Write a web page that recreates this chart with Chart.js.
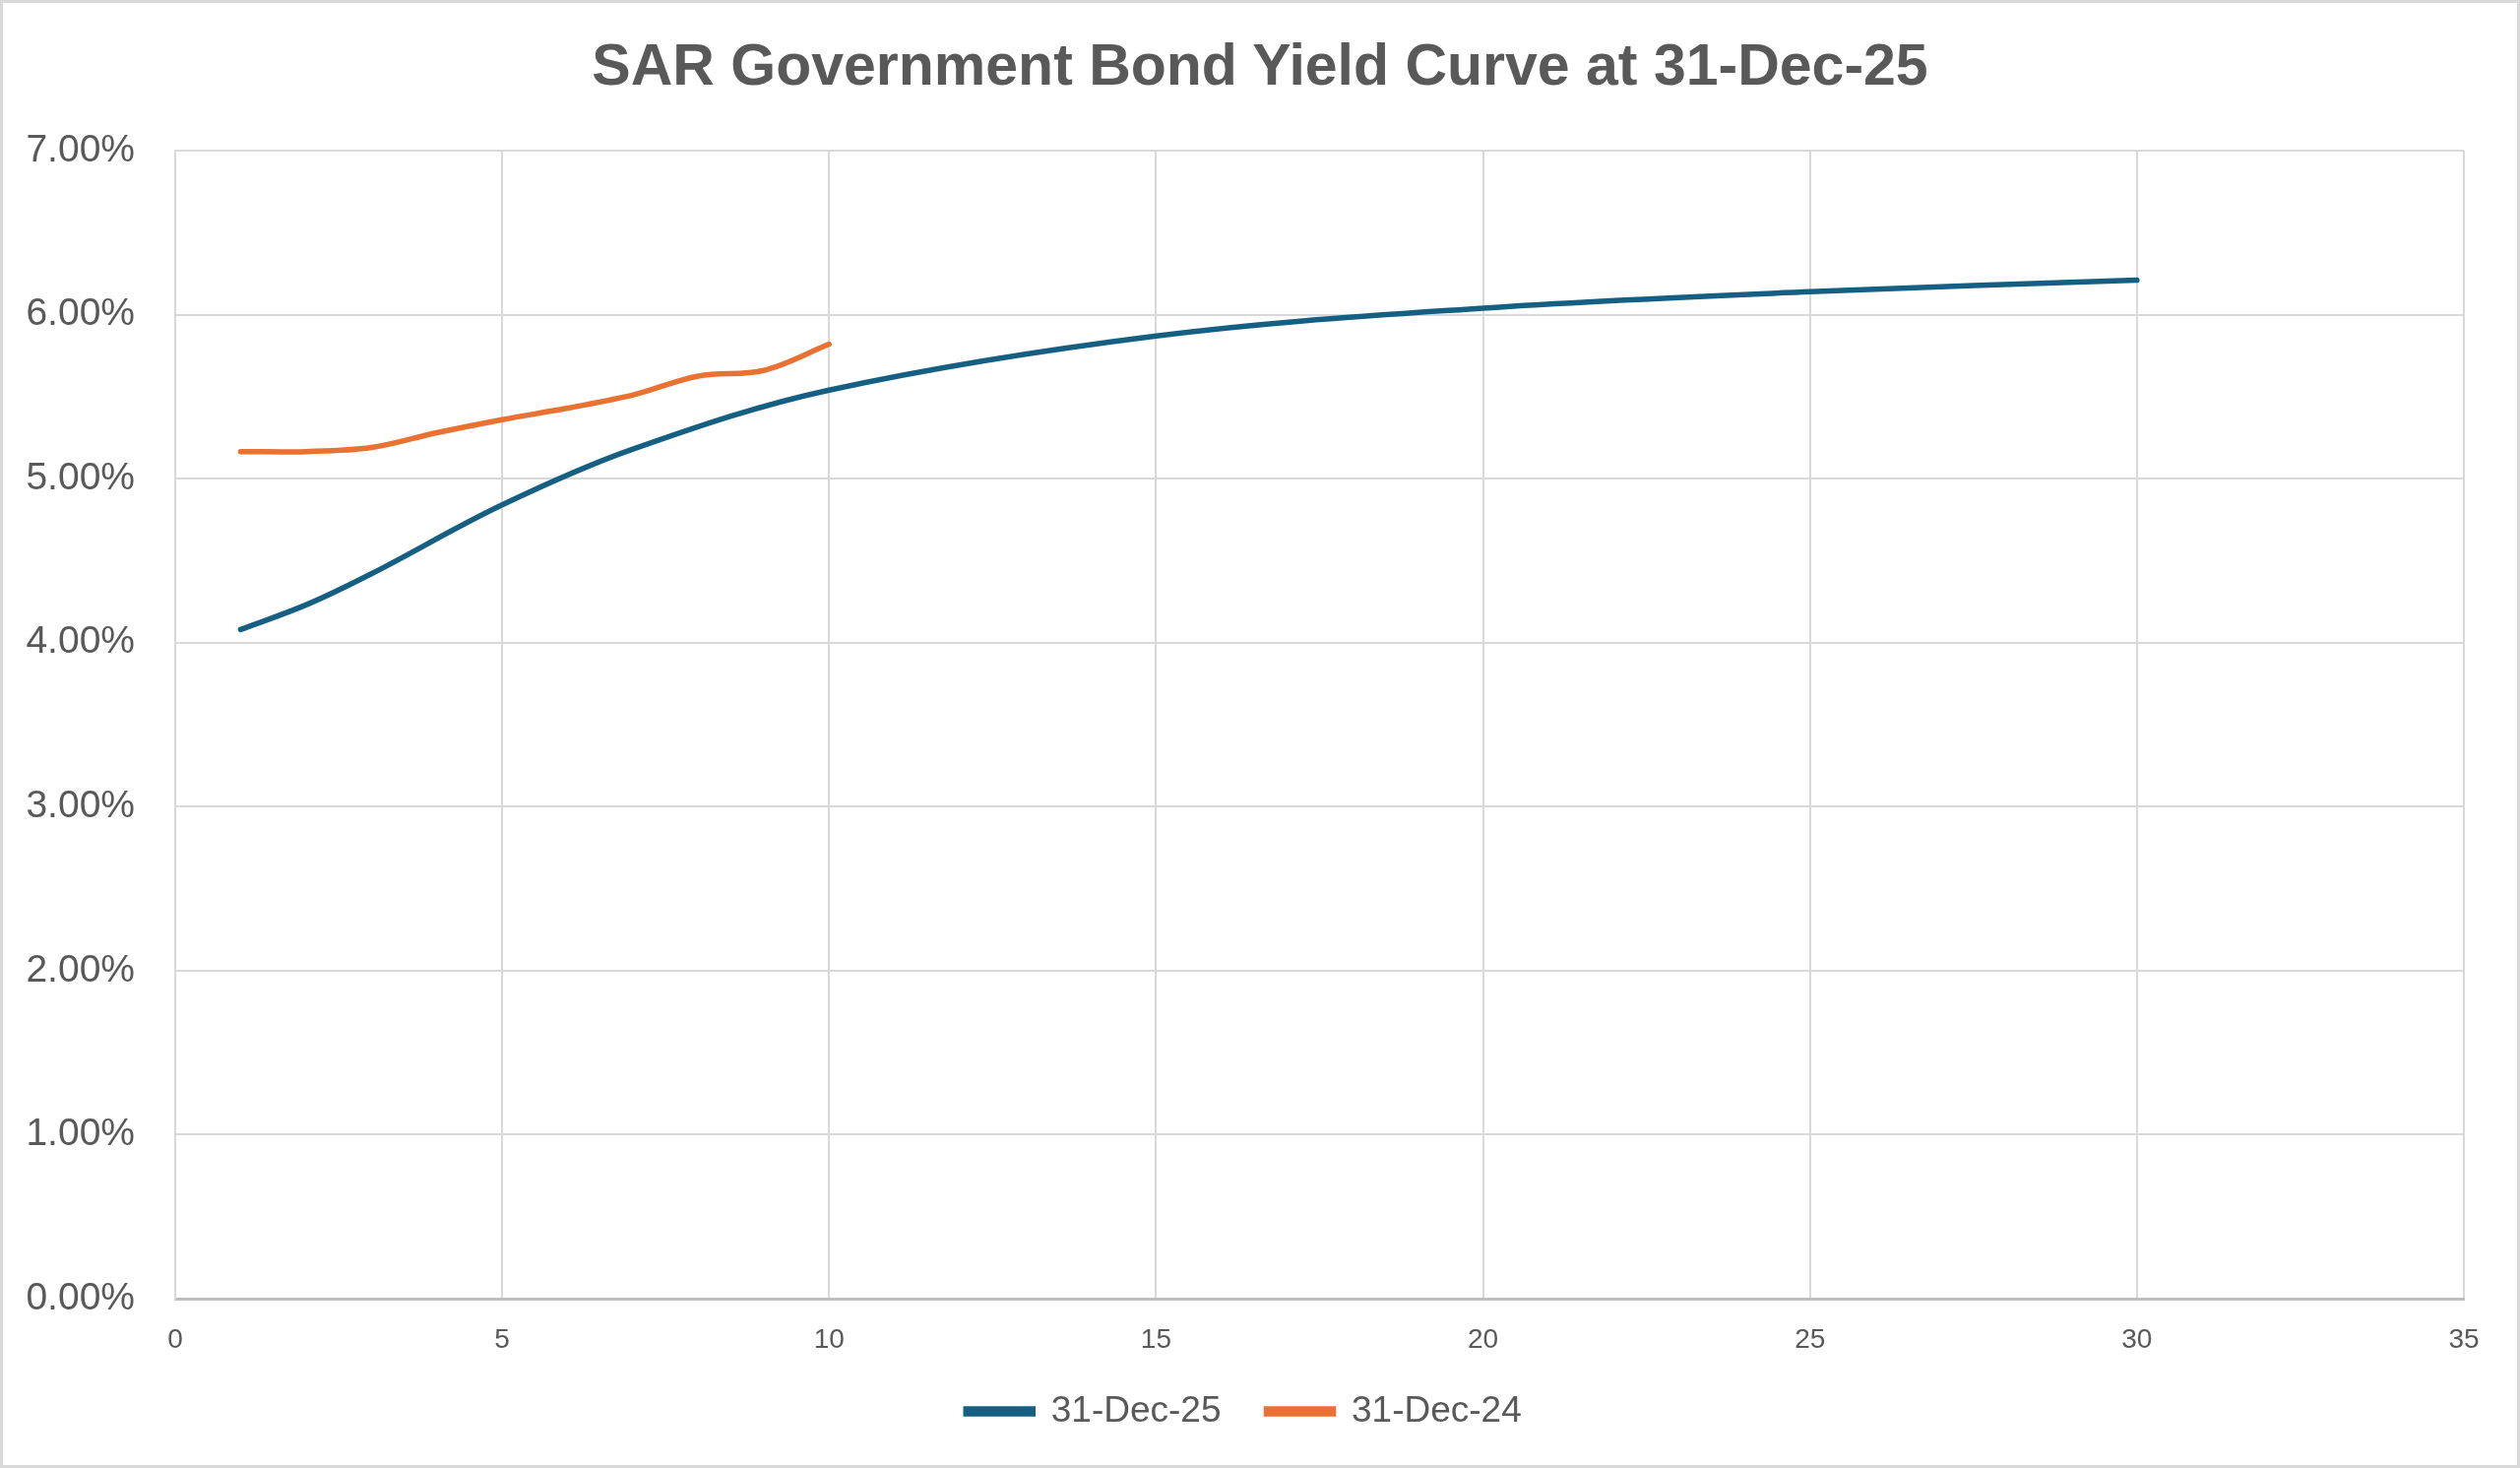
<!DOCTYPE html>
<html>
<head>
<meta charset="utf-8">
<script src="https://cdn.jsdelivr.net/npm/chart.js@4.4.1/dist/chart.umd.min.js"></script>
<style>
html, body { margin: 0; padding: 0; background: #ffffff; }
#wrap {
    width: 2560px;
    height: 1491px;
    box-sizing: border-box;
    border: 3px solid #d9d9d9;
    position: relative;
}
#title {
    position: absolute;
    left: 0;
    right: 0;
    top: 28px;
    text-align: center;
    font-family: 'Liberation Sans', Arial, sans-serif;
    font-weight: bold;
    font-size: 59px;
    line-height: 71px;
    color: #595959;
}
</style>
</head>
<body>
<div id="wrap">
    <div id="title"></div>
    <canvas id="chart"></canvas>
</div>
<script>

/* DATA */

const tenors25 = [1, 2, 3, 5, 7, 10, 15, 20, 25, 30];
const yields25 = [4.08, 4.23, 4.42, 4.84, 5.18, 5.54, 5.87, 6.04, 6.14, 6.21];

const tenors24 = [1, 2, 3, 4, 5, 6, 7, 8, 9, 10];
const yields24 = [5.165, 5.165, 5.19, 5.28, 5.36, 5.43, 5.51, 5.625, 5.66, 5.82];

const seriesNames = ["31-Dec-25", "31-Dec-24"];
const chartTitle = "SAR Government Bond Yield Curve at 31-Dec-25";

/* HELPERS */

function toPoints(xs, ys){
    return xs.map((x, i) => ({ x: x, y: ys[i] }));
}

const textGrey = "#595959";
const gridGrey = "#d9d9d9";

document.getElementById("title").textContent = chartTitle;

/* CHART */

new Chart(document.getElementById("chart"), {
    type: 'scatter',
    data: {
        datasets: [
            {
                label: seriesNames[0],
                data: toPoints(tenors25, yields25),
                showLine: true,
                borderColor: '#156082',
                backgroundColor: '#156082',
                borderWidth: 5.5,
                borderCapStyle: 'round',
                pointRadius: 0,
                pointHoverRadius: 0,
                tension: 0.35
            },
            {
                label: seriesNames[1],
                data: toPoints(tenors24, yields24),
                showLine: true,
                borderColor: '#E97132',
                backgroundColor: '#E97132',
                borderWidth: 5.5,
                borderCapStyle: 'round',
                pointRadius: 0,
                pointHoverRadius: 0,
                tension: 0.35
            }
        ]
    },
    options: {
        responsive: true,
        maintainAspectRatio: false,
        animation: false,
        layout: {
            padding: { left: 21, right: 54, top: 150, bottom: 26 }
        },
        plugins: {
            title: { display: false },
            legend: {
                position: 'bottom',
                labels: {
                    color: textGrey,
                    font: { family: 'Liberation Sans', size: 37 },
                    boxWidth: 68,
                    boxHeight: 5,
                    padding: 46
                }
            },
            tooltip: { enabled: false }
        },
        scales: {
            x: {
                type: 'linear',
                min: 0,
                max: 35,
                afterFit: scale => { scale.height = 50; },
                ticks: {
                    stepSize: 5,
                    color: textGrey,
                    padding: 25,
                    font: { family: 'Liberation Sans', size: 28 }
                },
                grid: {
                    color: gridGrey,
                    lineWidth: 2,
                    drawTicks: false
                },
                border: { color: '#bfbfbf', width: 3 }
            },
            y: {
                min: 0,
                max: 7,
                afterFit: scale => { scale.width = 154; },
                ticks: {
                    stepSize: 1,
                    color: textGrey,
                    padding: 41,
                    font: { family: 'Liberation Sans', size: 39 },
                    callback: v => v.toFixed(2) + '%'
                },
                grid: {
                    color: gridGrey,
                    lineWidth: 2,
                    drawTicks: false
                },
                border: { color: gridGrey, width: 2 }
            }
        }
    }
});

</script>
</body>
</html>
